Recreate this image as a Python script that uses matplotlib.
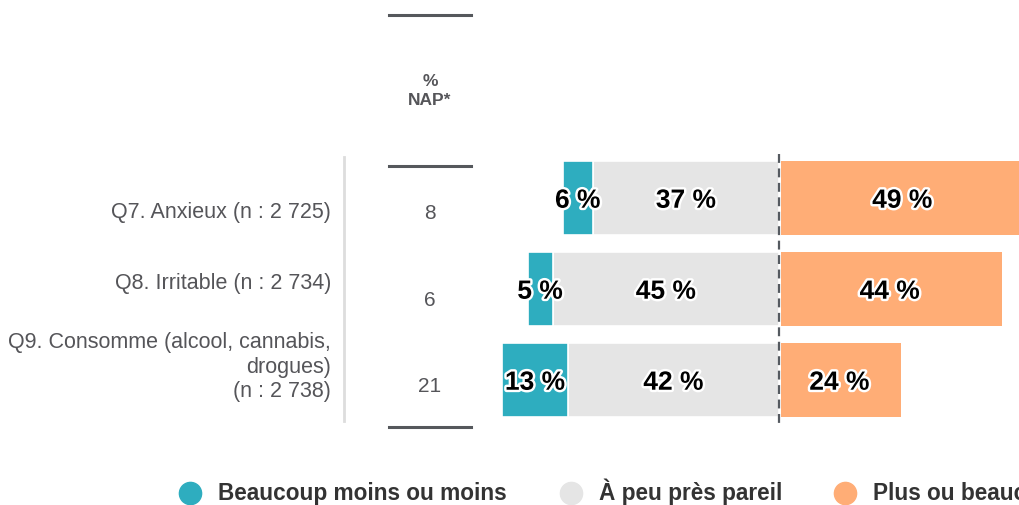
import matplotlib.pyplot as plt
import matplotlib.patheffects as pe

plt.rcParams['font.family'] = ['Liberation Sans', 'DejaVu Sans']

# data
questions = ["Q7. Anxieux (n : 2 725)",
             "Q8. Irritable (n : 2 734)",
             "Q9. Consomme (alcool, cannabis,\ndrogues)\n(n : 2 738)"]
moins = [6, 5, 13]
pareil = [37, 45, 42]
plus = [49, 44, 24]
nap = [8, 6, 21]
legend_labels = ["Beaucoup moins ou moins", "À peu près pareil", "Plus ou beaucoup plus"]

c_teal = "#2eadbf"
c_grey = "#e5e5e5"
c_orange = "#ffad76"
c_text = "#555559"

W, H = 1019, 505
fig = plt.figure(figsize=(W / 100, H / 100), dpi=100)


def fx(px):
    return px / W


def fy(py):
    return 1 - py / H


# bar axes, pixel 470..1019 horizontally, 150..430 vertically
ax = fig.add_axes([fx(470), fy(430), fx(1019) - fx(470), fy(150) - fy(430)])
ppu = 5.03
ax.set_xlim((470 - 779) / ppu, (1019 - 779) / ppu)
ax.set_ylim((430 - 198) / 91, (150 - 198) / 91)
ax.axis("off")

ypos = list(range(len(questions)))
h = 0.81
ax.barh(ypos, [-p for p in pareil], height=h, color=c_grey, edgecolor="white", linewidth=1.2)
ax.barh(ypos, [-m for m in moins], left=[-p for p in pareil], height=h,
        color=c_teal, edgecolor="white", linewidth=1.2)
ax.barh(ypos, plus, left=0.35, height=h, color=c_orange, edgecolor="white", linewidth=0)
ax.plot([0, 0], [-0.48, 2.5], color="#555a60", lw=1.6, ls=(0, (4, 2.5)), zorder=5)

stroke = [pe.withStroke(linewidth=3.5, foreground="white")]
for i in ypos:
    vals = [(-pareil[i] - moins[i] / 2, moins[i]),
            (-pareil[i] / 2, pareil[i]),
            (plus[i] / 2, plus[i])]
    for x, v in vals:
        ax.text(x, i + 0.03, f"{v} %", ha="center", va="center", fontsize=19,
                fontweight="bold", color="black", path_effects=stroke, zorder=6)

# question labels
label_y = [213, 284, 367]
for lab, py in zip(questions, label_y):
    fig.text(fx(331), fy(py), lab, ha="right", va="center", fontsize=15.5,
             color=c_text, linespacing=1.2)

# vertical separator
fig.add_artist(plt.Line2D([fx(344), fx(344)], [fy(157), fy(421)], color="#dddddd", lw=2))

# NAP column
for py in [15, 166, 427]:
    fig.add_artist(plt.Line2D([fx(389), fx(471)], [fy(py), fy(py)], color="#55585c", lw=2.2))
fig.text(fx(430), fy(91), "%\nNAP*", ha="center", va="center", fontsize=12.5,
         fontweight="bold", color=c_text, linespacing=1.3)
for v, py in zip(nap, [214, 300, 386]):
    fig.text(fx(430), fy(py), str(v), ha="center", va="center", fontsize=15, color=c_text)

# legend
for col, lab, cx in zip([c_teal, c_grey, c_orange], legend_labels, [190, 571, 845]):
    fig.add_artist(plt.Line2D([fx(cx)], [fy(493)], marker="o", markersize=16,
                              color=col, lw=0))
    fig.text(fx(cx + 28), fy(500), lab, ha="left", va="baseline", fontsize=16.3,
             fontweight="bold", color="#333333")

fig.savefig("out.png", dpi=100)
